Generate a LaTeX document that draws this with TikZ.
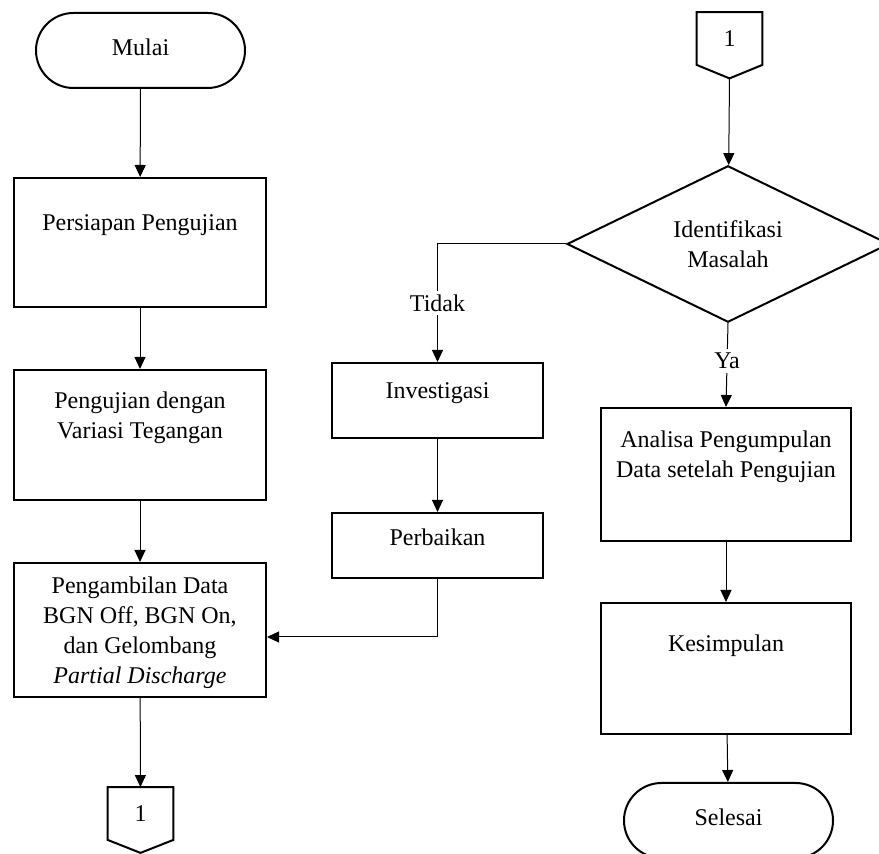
\documentclass[tikz,border=0pt]{standalone}
\usepackage{fontspec}
\setmainfont{Liberation Serif}
\usetikzlibrary{shapes.geometric,arrows.meta}

\tikzset{
  proc/.style={draw, line width=1pt, inner sep=0pt},
  term/.style={draw, line width=1pt, rounded corners=18.7pt, text depth=3.5pt,
    minimum width=104.5pt, minimum height=37.5pt},
  decide/.style={diamond, draw, line width=1pt, align=center,
    inner sep=0pt, minimum width=161pt, minimum height=78pt},
  offpage/.style={inner sep=0pt, minimum width=32.5pt, minimum height=26pt},
  boxtext/.style={anchor=north, inner sep=0pt, align=center},
  link/.style={line width=0.5pt},
  arr/.style={link, -{Triangle[length=6pt,width=5.5pt]}},
  answer/.style={fill=white, inner sep=2pt}
}

\begin{document}
\begin{tikzpicture}[x=0.5pt, y=-0.5pt, font=\fontsize{12}{15}\selectfont]
    \useasboundingbox (0,0) rectangle (879,854);

    % kolom kiri
    \node[term] (mulai) at (140.5,50.5) {Mulai};
    \node[proc, minimum width=126pt, minimum height=64.5pt,
      label={[boxtext, yshift=-18.8pt]north:Persiapan Pengujian}] (persiapan) at (140,242.5) {};
    \node[proc, minimum width=126pt, minimum height=65pt,
      label={[boxtext, yshift=-11.2pt]north:{Pengujian dengan\\Variasi Tegangan}}] (pengujian) at (140,435) {};
    \node[proc, minimum width=126pt, minimum height=67pt,
      label={[boxtext, yshift=-7.3pt]north:{Pengambilan Data\\BGN Off, BGN On,\\dan Gelombang\\\textit{Partial Discharge}}}] (pengambilan) at (140,630) {};
    \node[offpage] (c2) at (140.5,813.5) {1};
    \coordinate (c2tip) at ([yshift=-6.5pt]c2.south);
    \draw[line width=1pt] (c2.north west) -- (c2.north east) -- (c2.south east)
      -- (c2tip) -- (c2.south west) -- cycle;

    % kolom kanan
    \node[offpage] (c1) at (729.5,38.5) {1};
    \coordinate (c1tip) at ([yshift=-6.75pt]c1.south);
    \draw[line width=1pt] (c1.north west) -- (c1.north east) -- (c1.south east)
      -- (c1tip) -- (c1.south west) -- cycle;
    \node[decide] (masalah) at (728,244) {Identifikasi\\Masalah};
    \node[proc, minimum width=125pt, minimum height=66.5pt,
      label={[boxtext, yshift=-11.6pt]north:{Analisa Pengumpulan\\Data setelah Pengujian}}] (analisa) at (726,474.5) {};
    \node[proc, minimum width=125pt, minimum height=65.5pt,
      label={[boxtext, yshift=-16.2pt]north:Kesimpulan}] (kesimpulan) at (726,668.5) {};
    \node[term] (selesai) at (728.5,820.5) {Selesai};

    % kolom tengah
    \node[proc, minimum width=105.5pt, minimum height=37.5pt,
      label={[boxtext, yshift=-10pt]north:Investigasi}] (investigasi) at (437.5,400.5) {};
    \node[proc, minimum width=105.5pt, minimum height=32.5pt,
      label={[boxtext, yshift=-8.2pt]north:Perbaikan}] (perbaikan) at (437.5,545.5) {};

    % alur
    \draw[arr] (mulai) -- (persiapan);
    \draw[arr] (persiapan) -- (pengujian);
    \draw[arr] (pengujian) -- (pengambilan);
    \draw[arr] (pengambilan) -- (c2);
    \draw[arr] (c1tip) -- (masalah);
    \draw[arr] (masalah.west) -| node[answer, pos=0.75] {Tidak} (investigasi.north);
    \draw[arr] (investigasi) -- (perbaikan);
    \draw[arr] (perbaikan.south) |- ([yshift=-3.5pt]pengambilan.east);
    \draw[arr] (masalah.south) -- node[answer, pos=0.45] {Ya} (analisa.north);
    \draw[arr] (analisa) -- (kesimpulan);
    \draw[arr] (kesimpulan) -- (selesai);
\end{tikzpicture}
\end{document}
